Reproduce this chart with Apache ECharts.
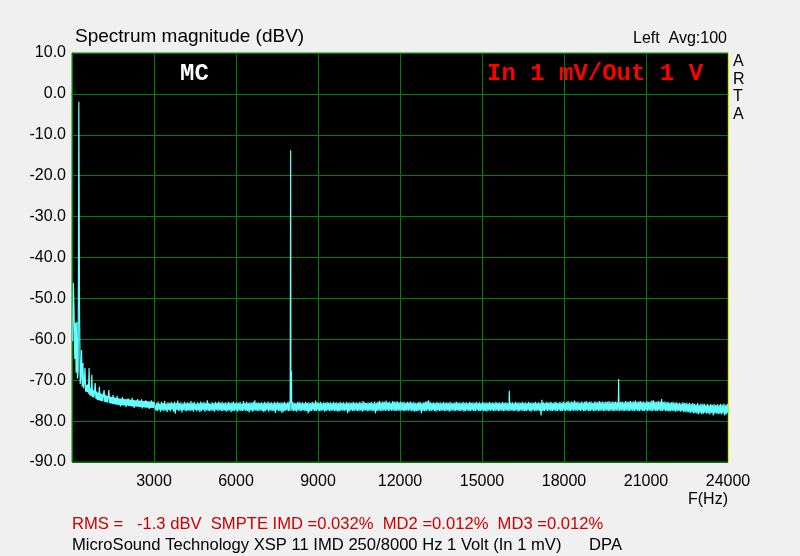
<!DOCTYPE html>
<html>
<head>
<meta charset="utf-8">
<script src="https://cdn.jsdelivr.net/npm/echarts@6/dist/echarts.min.js"></script>
<style>
html,body{margin:0;padding:0;background:#f0f0f0;}
#chart{width:800px;height:556px;}
</style>
</head>
<body>
<div id="chart"></div>
<script>
// ---- data ----
const lowStartHz = 25, lowStepHz = 25;   // 25 .. 3000 Hz
const lowDb = [
-60.5,-46.2,-53.0,-64.8,-56.0,-68.2,-55.7,-69.6,-67.8,-1.9,
-52.0,-70.9,-69.2,-62.6,-71.6,-65.8,-72.0,-70.5,-67.0,-72.8,
-71.2,-72.9,-71.0,-73.3,-67.0,-73.7,-72.0,-73.9,-68.7,-74.1,
-72.4,-74.3,-72.6,-70.7,-74.5,-72.8,-74.8,-73.0,-74.9,-71.6,
-75.0,-73.2,-75.1,-73.4,-75.2,-73.5,-72.4,-75.3,-73.6,-75.4,
-73.8,-75.5,-73.9,-72.4,-75.6,-74.0,-75.7,-74.1,-75.8,-73.6,
-75.8,-74.2,-75.9,-74.3,-76.0,-73.8,-76.0,-74.4,-76.1,-74.5,
-76.4,-74.5,-76.1,-74.1,-76.2,-74.6,-76.2,-74.6,-76.6,-74.7,
-76.2,-74.4,-76.3,-74.7,-76.3,-74.8,-76.4,-74.3,-76.4,-74.8,
-76.8,-74.9,-76.4,-74.9,-76.5,-74.6,-76.5,-75.0,-76.6,-75.0,
-76.6,-74.7,-76.9,-75.1,-76.6,-75.1,-76.7,-74.9,-76.7,-75.1,
-76.7,-75.2,-77.0,-75.2,-76.8,-74.9,-76.8,-75.2,-76.8,-75.3
];
const highStartHz = 3030, highStepHz = 30; // 3030 .. 24000 Hz
const highDb = [
-75.4,-77.4,-75.6,-77.6,-75.2,-77.3,-75.7,-77.7,-75.3,-77.4,
-75.5,-77.5,-75.1,-77.4,-75.7,-77.8,-75.4,-77.3,-75.6,-77.6,
-75.3,-77.2,-75.6,-77.7,-75.2,-78.2,-75.5,-77.3,-75.0,-77.6,
-75.6,-77.4,-75.4,-77.9,-75.7,-77.3,-75.3,-77.5,-75.5,-77.6,
-75.4,-77.4,-75.6,-77.6,-75.1,-77.4,-75.5,-77.7,-75.3,-77.3,
-75.7,-77.6,-75.4,-77.4,-75.6,-77.8,-75.2,-77.5,-75.5,-77.3,
-75.3,-77.7,-75.6,-77.4,-74.9,-77.5,-75.5,-77.6,-75.7,-77.4,
-75.4,-77.5,-75.6,-77.7,-75.3,-77.3,-75.5,-77.6,-75.2,-77.4,
-75.5,-77.5,-75.3,-77.6,-75.6,-77.4,-75.4,-77.7,-75.5,-77.5,
-75.3,-77.4,-75.6,-77.8,-75.4,-77.5,-75.2,-77.6,-75.6,-77.4,
-75.4,-77.7,-75.5,-77.4,-75.3,-77.6,-75.7,-77.5,-75.1,-77.4,
-75.5,-77.6,-75.3,-77.5,-75.6,-77.9,-75.4,-77.4,-75.5,-77.7,
-75.3,-77.5,-74.9,-77.4,-75.5,-77.6,-75.4,-77.5,-75.6,-77.4,
-75.4,-77.6,-75.5,-77.8,-75.3,-77.5,-75.6,-77.4,-75.2,-77.7,
-75.5,-77.4,-75.4,-77.6,-75.6,-77.5,-75.3,-78.0,-75.5,-77.4,
-75.3,-77.6,-75.6,-77.5,-75.4,-78.0,-75.5,-77.7,-75.3,-77.5,
-75.6,-77.4,-75.4,-77.6,-75.2,-77.5,-75.5,-77.4,-75.3,-77.6,
-75.5,-77.5,-75.6,-77.7,-75.4,-77.4,-75.3,-77.6,-75.5,-77.5,
-75.4,-77.4,-75.6,-77.6,-75.3,-77.5,-75.5,-78.1,-75.4,-77.7,
-75.6,-77.5,-75.3,-77.4,-75.5,-77.6,-75.0,-77.5,-75.4,-77.4,
-75.5,-77.6,-75.3,-77.5,-75.6,-77.4,-75.4,-77.7,-75.5,-77.5,
-75.3,-77.4,-75.5,-77.6,-75.4,-77.5,-75.6,-77.4,-75.3,-77.6,
-75.5,-77.5,-75.4,-77.7,-75.6,-77.6,-75.3,-77.5,-75.5,-77.4,
-75.4,-77.6,-75.6,-77.4,-75.3,-78.1,-75.5,-77.7,-75.4,-77.4,
-75.6,-77.5,-75.3,-77.6,-75.5,-77.4,-75.4,-77.5,-75.6,-77.6,
-75.3,-77.4,-75.5,-77.7,-75.1,-77.5,-75.4,-77.4,-75.6,-77.6,
-75.4,-77.5,-75.5,-77.4,-75.3,-77.6,-75.6,-77.5,-75.2,-78.1,
-75.5,-77.6,-75.3,-77.4,-75.1,-77.5,-75.4,-77.6,-75.2,-77.4,
-75.3,-77.5,-75.0,-77.4,-75.4,-77.6,-75.2,-77.4,-75.5,-77.5,
-75.1,-77.4,-75.3,-77.6,-75.2,-77.5,-75.2,-77.4,-75.4,-77.6,
-75.2,-77.4,-75.4,-77.5,-75.3,-77.6,-75.5,-77.4,-75.3,-77.5,
-75.4,-77.4,-75.2,-77.6,-75.5,-77.5,-75.3,-77.7,-75.6,-77.6,
-75.5,-77.6,-75.3,-77.4,-75.4,-78.1,-75.6,-77.5,-75.4,-77.6,
-75.3,-77.5,-75.1,-77.4,-74.9,-77.6,-75.4,-77.5,-75.5,-77.4,
-75.4,-77.5,-75.6,-77.7,-75.3,-77.4,-75.5,-77.6,-75.4,-77.5,
-75.6,-77.4,-75.3,-77.6,-75.5,-77.5,-75.4,-77.4,-75.6,-77.7,
-75.3,-77.5,-75.5,-77.4,-75.6,-77.6,-75.4,-77.5,-75.3,-77.4,
-75.5,-77.6,-75.4,-77.5,-75.6,-77.4,-75.3,-77.7,-75.5,-77.5,
-75.4,-77.4,-75.6,-77.6,-75.3,-77.5,-75.5,-77.4,-75.4,-77.6,
-75.6,-77.5,-75.3,-77.4,-75.5,-77.6,-75.4,-77.5,-75.6,-77.4,
-75.3,-77.6,-75.5,-77.5,-75.4,-77.7,-75.6,-77.4,-75.3,-77.5,
-75.5,-77.4,-75.4,-77.6,-75.6,-77.5,-75.3,-77.4,-75.5,-77.6,
-75.4,-77.5,-75.6,-77.4,-75.3,-77.6,-75.5,-77.5,-75.4,-77.4,
-75.6,-77.6,-75.3,-77.5,-75.5,-77.4,-75.4,-77.6,-75.6,-77.5,
-75.3,-77.4,-75.5,-77.7,-75.4,-77.5,-75.6,-77.4,-75.3,-77.6,
-75.5,-77.5,-75.4,-77.6,-75.6,-77.4,-75.3,-77.5,-75.5,-77.7,
-75.4,-77.4,-75.6,-77.5,-75.3,-77.6,-75.5,-77.4,-75.4,-77.5,
-75.6,-78.6,-74.8,-77.5,-75.4,-77.6,-75.5,-77.4,-75.3,-77.5,
-75.5,-77.4,-75.3,-77.6,-75.4,-77.5,-75.6,-77.4,-75.3,-77.6,
-75.4,-77.5,-75.6,-77.4,-75.3,-77.6,-75.5,-77.5,-75.2,-77.4,
-75.5,-77.6,-75.3,-77.4,-75.1,-77.5,-75.4,-77.6,-75.2,-77.4,
-75.3,-77.5,-75.0,-77.4,-75.4,-77.6,-75.2,-77.4,-75.5,-77.5,
-75.2,-77.4,-75.4,-77.6,-75.3,-77.5,-75.1,-77.4,-75.4,-77.6,
-75.3,-77.5,-75.2,-77.4,-75.5,-77.6,-75.3,-77.5,-75.2,-77.4,
-75.4,-77.6,-75.1,-77.5,-75.3,-77.4,-75.2,-77.6,-75.4,-77.5,
-75.2,-77.4,-75.3,-77.6,-75.1,-77.5,-75.4,-77.4,-75.2,-77.6,
-75.3,-77.5,-75.2,-77.4,-75.4,-77.6,-75.1,-77.5,-75.3,-77.4,
-75.2,-77.6,-75.4,-77.5,-75.1,-77.4,-75.3,-77.6,-75.2,-77.5,
-75.1,-77.4,-75.3,-77.5,-75.2,-77.6,-75.0,-77.4,-75.3,-77.5,
-75.2,-77.6,-75.1,-77.4,-75.3,-77.5,-75.2,-77.6,-75.4,-77.4,
-75.1,-77.5,-75.3,-77.4,-75.2,-77.6,-75.0,-77.5,-74.9,-77.4,
-75.2,-77.6,-75.3,-77.5,-75.1,-77.4,-75.2,-77.6,-74.6,-77.5,
-75.3,-77.4,-75.2,-77.6,-75.4,-77.5,-75.3,-77.7,-75.5,-77.6,
-75.4,-77.5,-75.3,-77.6,-75.5,-77.7,-75.4,-77.6,-75.6,-77.5,
-75.5,-77.7,-75.7,-77.6,-75.4,-77.8,-75.6,-77.7,-75.5,-77.9,
-75.7,-77.8,-75.5,-78.0,-75.8,-77.9,-75.6,-78.1,-75.8,-78.0,
-75.9,-78.1,-75.6,-78.4,-76.0,-78.0,-75.7,-78.3,-75.9,-78.2,
-75.7,-78.0,-76.0,-78.2,-75.8,-78.1,-76.1,-78.4,-75.8,-78.0,
-76.0,-78.6,-75.8,-78.2,-76.1,-78.1,-75.9,-78.3,-76.0,-78.2,
-75.8,-78.4,-76.0,-78.1,-75.7,-78.6,-76.1,-78.3,-75.8,-78.0
];
const peakHz = [8000, 8030, 16000, 20000];
const peakDb = [-13.8, -67.8, -72.6, -69.7];

const xTicks = [0, 3000, 6000, 9000, 12000, 15000, 18000, 21000, 24000];
const yMin = -90, yMax = 10, yStep = 10;

// ---- build spectrum points ----
const spectrum = [];
lowDb.forEach((v, i) => spectrum.push([lowStartHz + i * lowStepHz, v]));
highDb.forEach((v, i) => spectrum.push([highStartHz + i * highStepHz, v]));
peakHz.forEach((f, i) => spectrum.push([f, peakDb[i]]));
spectrum.sort((a, b) => a[0] - b[0]);

const chart = echarts.init(document.getElementById('chart'), null, {renderer: 'canvas'});
const FONT = '"Liberation Sans", Arial, sans-serif';
const MONO = '"Liberation Mono", "Courier New", monospace';
const GREEN = '#008000';

chart.setOption({
  animation: false,
  backgroundColor: '#f0f0f0',
  grid: {left: 72, right: 72, top: 53, bottom: 94, show: true,
         backgroundColor: '#000000', borderColor: GREEN, borderWidth: 1},
  xAxis: {
    type: 'value', min: xTicks[0], max: xTicks[xTicks.length - 1], interval: xTicks[1] - xTicks[0],
    axisLine: {show: true, lineStyle: {color: GREEN, width: 1}},
    axisTick: {show: false},
    splitLine: {show: true, lineStyle: {color: GREEN, width: 1}},
    axisLabel: {color: '#000', fontFamily: FONT, fontSize: 16, margin: 12,
      formatter: v => (v === 0 ? '' : String(v))}
  },
  yAxis: [{
    type: 'value', min: yMin, max: yMax, interval: yStep,
    axisLine: {show: true, lineStyle: {color: GREEN, width: 1}},
    axisTick: {show: false},
    splitLine: {show: true, lineStyle: {color: GREEN, width: 1}},
    axisLabel: {color: '#000', fontFamily: FONT, fontSize: 16, margin: 6,
      formatter: v => v.toFixed(1)}
  }, {
    type: 'value', min: yMin, max: yMax, interval: yStep, position: 'right',
    axisLine: {show: true, lineStyle: {color: '#e6e600', width: 1}},
    axisTick: {show: false}, splitLine: {show: false}, axisLabel: {show: false}
  }],
  series: [{
    type: 'line', data: spectrum, showSymbol: false, symbol: 'none',
    sampling: null, clip: true,
    lineStyle: {color: '#66ffff', width: 1.2}
  }],
  graphic: [
    {type: 'text', left: 75, top: 27, style: {text: 'Spectrum magnitude (dBV)', font: '19px ' + FONT, fill: '#000'}},
    {type: 'text', right: 73, top: 31, style: {text: 'Left  Avg:100', font: '16px ' + FONT, fill: '#000'}},
    {type: 'text', left: 733, top: 53, style: {text: 'A\nR\nT\nA', font: '16px ' + FONT, fill: '#000', lineHeight: 17.5, align: 'center'}},
    {type: 'text', left: 180, top: 62, style: {text: 'MC', font: 'bold 24px ' + MONO, fill: '#ffffff'}},
    {type: 'text', left: 487, top: 62, style: {text: 'In 1 mV/Out 1 V', font: 'bold 24px ' + MONO, fill: '#ff0000'}},
    {type: 'text', left: 688, top: 492, style: {text: 'F(Hz)', font: '16px ' + FONT, fill: '#000'}},
    {type: 'text', left: 72, top: 516, style: {text: 'RMS =   -1.3 dBV  SMPTE IMD =0.032%  MD2 =0.012%  MD3 =0.012%', font: '16.6px ' + FONT, fill: '#cc0000'}},
    {type: 'text', left: 72, top: 537, style: {text: 'MicroSound Technology XSP 11 IMD 250/8000 Hz 1 Volt (In 1 mV)      DPA', font: '16.6px ' + FONT, fill: '#000'}}
  ]
});
</script>
</body>
</html>
